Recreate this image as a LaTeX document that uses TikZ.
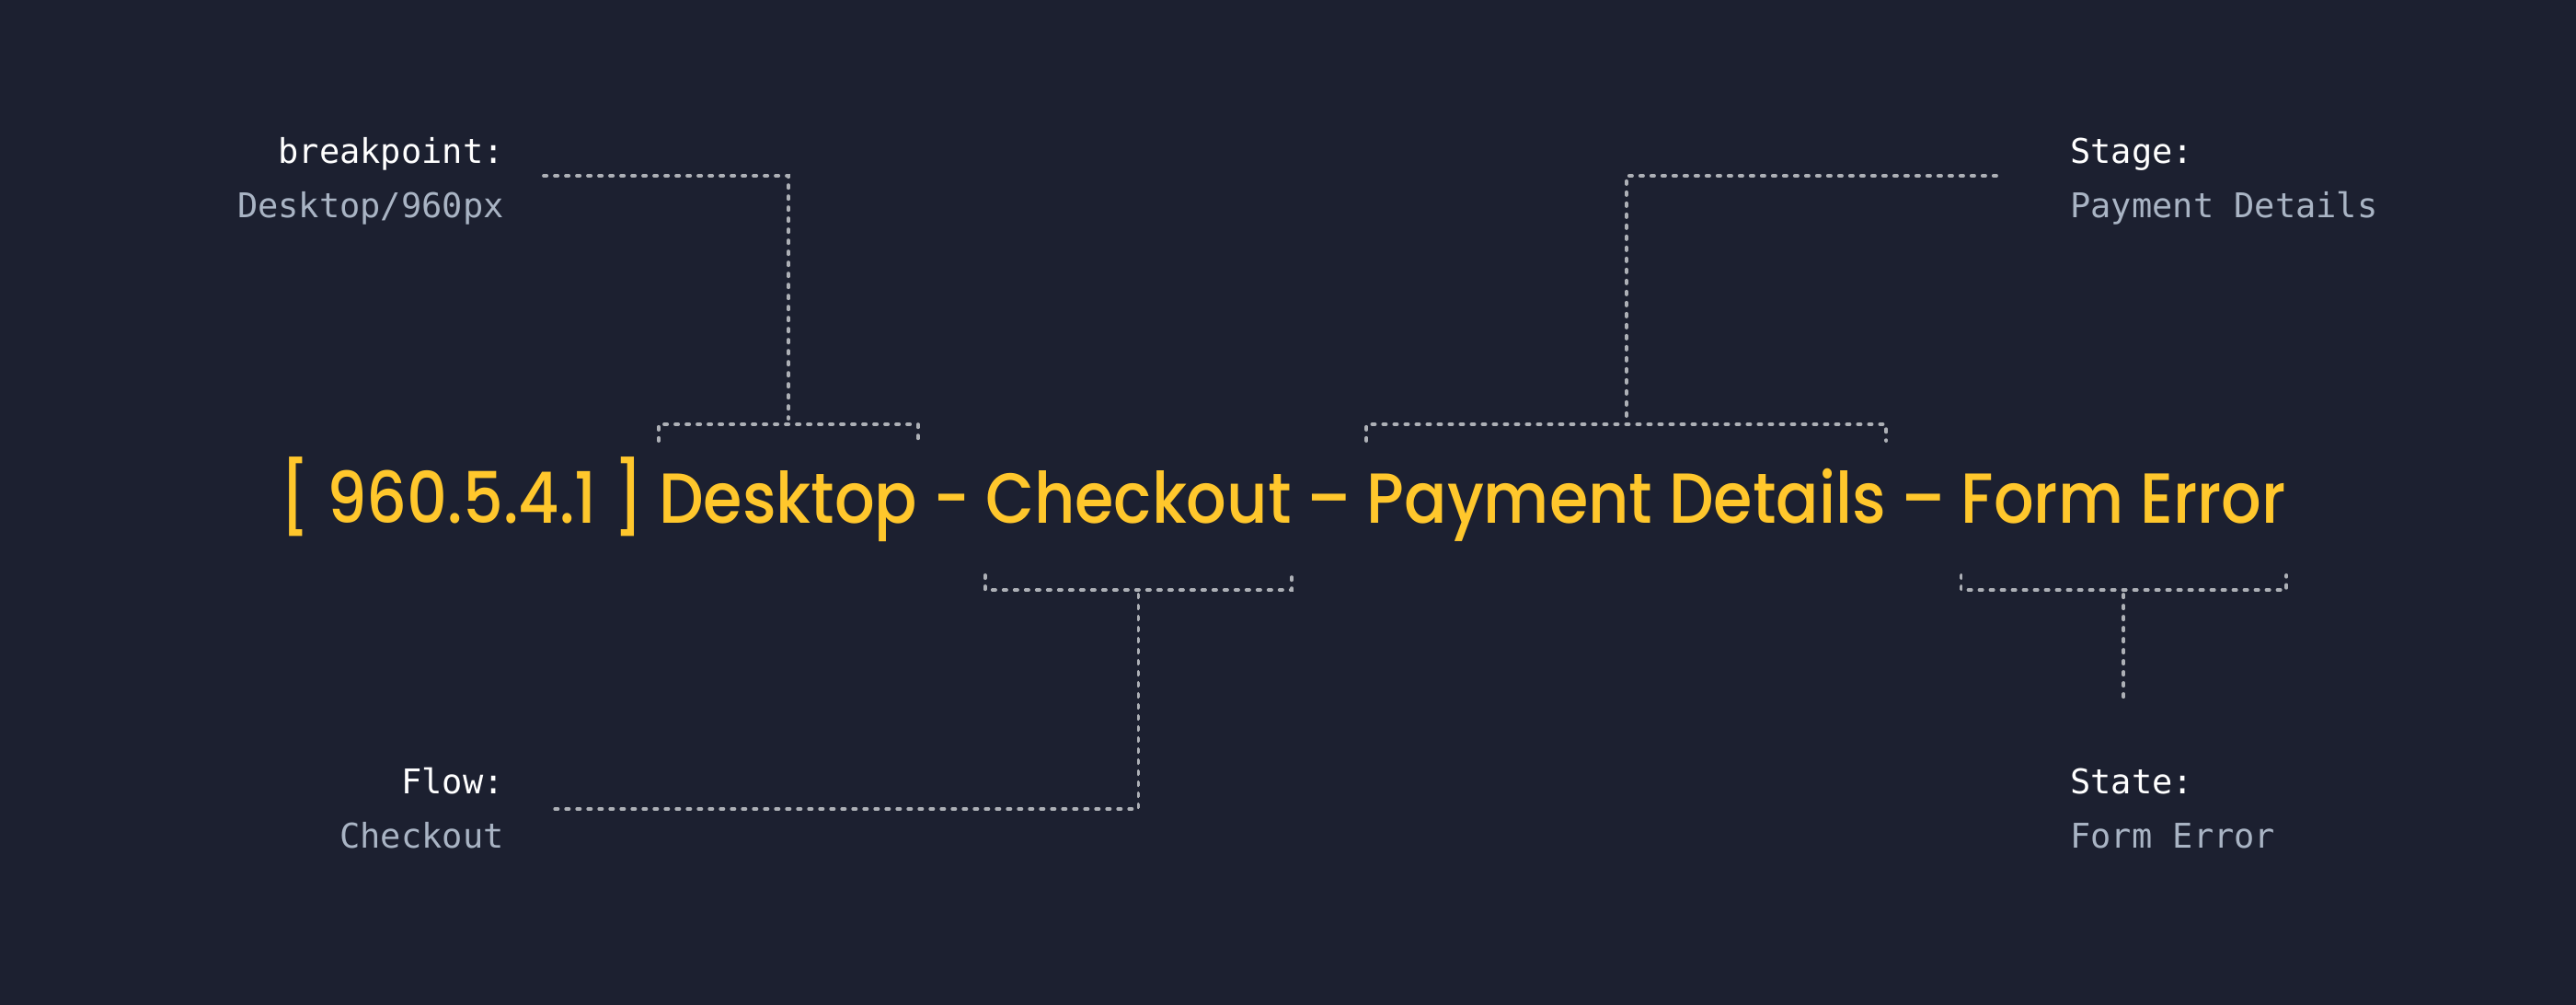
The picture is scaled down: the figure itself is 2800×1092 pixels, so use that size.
\documentclass[tikz,border=0pt]{standalone}
\usepackage{fontspec}
\newfontfamily\titlefont{Poppins Medium}[FakeStretch=0.89]
\newfontfamily\labelfont{DejaVu Sans Mono}
\usetikzlibrary{calc}
\definecolor{bg}{HTML}{1C2030}
\definecolor{ttlc}{HTML}{FFC72C}
\definecolor{keyc}{HTML}{FFFFFF}
\definecolor{valc}{HTML}{A9B4C4}
\definecolor{linec}{HTML}{ADB0B6}
\tikzset{
  ttl/.style={inner sep=0pt, text=ttlc, font=\titlefont\fontsize{38.5}{46}\selectfont, anchor=base west},
  keylab/.style={inner sep=0pt, text=keyc, font=\labelfont\fontsize{18.5}{22}\selectfont},
  vallab/.style={inner sep=0pt, text=valc, font=\labelfont\fontsize{18.5}{22}\selectfont},
  conn/.style={draw=linec, line width=1.9pt, line cap=round, dash pattern=on 1.6pt off 4.4pt},
}
\newcommand{\wsp}{8pt}
\begin{document}
\begin{tikzpicture}[x=0.5pt,y=-0.5pt]
\fill[bg] (0,0) rectangle (2800,1092);
\useasboundingbox (0,0) rectangle (2800,1092);
% title
\node[ttl] (t1) at (304,568) {[ 960.5.4.1 ]};
\node[ttl] (t2) at ([xshift=\wsp]t1.base east) {Desktop};
\node[ttl] (t3) at ([xshift=\wsp]t2.base east) {-};
\node[ttl] (t4) at ([xshift=\wsp]t3.base east) {Checkout};
\node[ttl] (t5) at ([xshift=\wsp]t4.base east) {–};
\node[ttl] (t6) at ([xshift=\wsp]t5.base east) {Payment Details};
\node[ttl] (t7) at ([xshift=\wsp]t6.base east) {–};
\node[ttl] (t8) at ([xshift=\wsp]t7.base east) {Form Error};
% labels
\node[keylab, anchor=base east] (bpk) at (548,177) {breakpoint:};
\node[vallab, anchor=base east] (bpv) at (548,236) {Desktop/960px};
\node[keylab, anchor=base west] (stk) at (2250,177) {Stage:};
\node[vallab, anchor=base west] (stv) at (2250,236) {Payment Details};
\node[keylab, anchor=base east] (flk) at (548,862) {Flow:};
\node[vallab, anchor=base east] (flv) at (548,921) {Checkout};
\node[keylab, anchor=base west] (sk) at (2250,862) {State:};
\node[vallab, anchor=base west] (sv) at (2250,921) {Form Error};
% reference heights
\coordinate (ybt) at (0,479);
\coordinate (ybb) at (0,461);
\coordinate (ylt) at (0,455);
\coordinate (ybt2) at (0,625);
\coordinate (ybb2) at (0,641);
\coordinate (ylb) at (0,646);
\coordinate (send) at (0,764);
\coordinate (bpin) at (591,191);
\coordinate (stin) at (2170,191);
\coordinate (flin) at (595,879);
% brackets
\draw[conn] (t2.west |- ybt) -- (t2.west |- ybb) -- (t2.east |- ybb) -- (t2.east |- ybt);
\draw[conn] (t6.west |- ybt) -- (t6.west |- ybb) -- (t6.east |- ybb) -- (t6.east |- ybt);
\draw[conn] (t4.west |- ybt2) -- (t4.west |- ybb2) -- (t4.east |- ybb2) -- (t4.east |- ybt2);
\draw[conn] (t8.west |- ybt2) -- (t8.west |- ybb2) -- (t8.east |- ybb2) -- (t8.east |- ybt2);
% leaders
\draw[conn] (bpin) -| (t2.center |- ylt);
\draw[conn] (stin) -| (t6.center |- ylt);
\draw[conn] (t4.center |- ylb) |- (flin);
\draw[conn] (t8.center |- ylb) -- (t8.center |- send);
\end{tikzpicture}
\end{document}
